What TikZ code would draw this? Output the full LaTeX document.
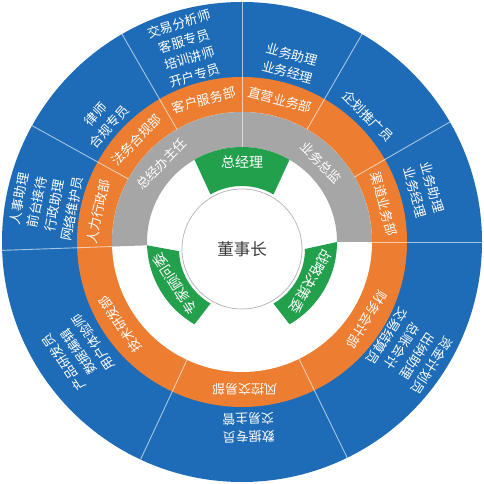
\documentclass[tikz,border=0pt]{standalone}
\usepackage{fontspec}
\newfontfamily\cjk{Noto Sans CJK SC}
\usetikzlibrary{calc}
\definecolor{cblue}{RGB}{30,108,184}
\definecolor{corange}{RGB}{237,125,49}
\definecolor{cgray}{RGB}{166,166,166}
\definecolor{cgreen}{RGB}{34,160,76}
\definecolor{cdark}{RGB}{60,60,60}
\tikzset{
  sep/.style={draw=white, draw opacity=0.6, line width=0.9pt},
  btext/.style={text=white, font=\cjk\fontsize{13}{18}\selectfont, align=center, inner sep=0pt},
  otext/.style={text=white, font=\cjk\fontsize{13}{15}\selectfont, inner sep=0pt},
  gtext/.style={text=white, font=\cjk\fontsize{13}{15}\selectfont, inner sep=0pt},
  ktext/.style={text=white, font=\cjk\fontsize{14}{16}\selectfont, inner sep=0pt},
}
\begin{document}
\begin{tikzpicture}[x=1pt,y=1pt]
\useasboundingbox (-242,-242) rectangle (241,242);
% rings
\fill[cblue] (0,0) circle (240);
\fill[corange] (0,0) circle (165);
\fill[white] (0,0) circle (130);
\fill[cgray] (182:130) arc[start angle=182,end angle=0,radius=130] -- (0:95) arc[start angle=0,end angle=182,radius=95] -- cycle;
% green sectors
\fill[cgreen] (60:95) arc[start angle=60,end angle=120,radius=95] -- ($(0,-7)+(120:63)$) arc[start angle=120,end angle=60,radius=63] -- cycle;
\fill[cgreen] (300:95) arc[start angle=300,end angle=360,radius=95] -- ($(0,-7)+(360:63)$) arc[start angle=360,end angle=300,radius=63] -- cycle;
\fill[cgreen] (182:95) arc[start angle=182,end angle=240,radius=95] -- ($(0,-7)+(240:63)$) arc[start angle=240,end angle=182,radius=63] -- cycle;
% centre circle
\draw[gray!60, line width=0.7pt, fill=white] (0,-7) circle (60);
% separators
\foreach \a in {30,60,120,151,245,296} \draw[sep] (\a:130) -- (\a:240);
\draw[sep] (90:95) -- (90:240);
\draw[sep] (0:130) -- (0:240);
\draw[sep] (182:130) -- (182:240);
% centre
\node[text=cdark, font=\cjk\fontsize{16.5}{18}\selectfont, inner sep=0pt] (dsz) at (0,-7) {董事长};
% green
\node[ktext] (zjl) at (90:80) {总经理};
\node[ktext, rotate=-120] (zljc) at (330:79) {战略决策委};
\node[ktext, rotate=123] (zjgw) at (212:79) {专家顾问委};
% gray
\node[gtext, rotate=46] (zjbzr) at (136:112) {总经办主任};
\node[gtext, rotate=-45] (ywzj) at (45:112) {业务总监};
% orange
\node[otext, rotate=15] (kffw) at (105:147) {客户服务部};
\node[otext, rotate=-15] (zyyw) at (75:147) {直营业务部};
\node[otext, rotate=-75] (qdyw) at (15:147) {渠道业务部};
\node[otext, rotate=-122] (cwkj) at (328:147) {财务会计部};
\node[otext, rotate=180] (fkjy) at (271:147) {风控交易部};
\node[otext, rotate=124] (jsyf) at (214:147) {技术研发部};
\node[otext, rotate=78] (rlxz) at (168:147) {人力行政部};
\node[otext, rotate=46] (fwhg) at (136:147) {法务合规部};
% blue
\node[btext, rotate=17] (b1) at (106:200) {交易分析师\\客服专员\\培训讲师\\开户专员};
\node[btext, rotate=-15] (b2) at (75:185) {业务助理\\业务经理};
\node[btext, rotate=-45] (b3) at (45:178) {企划推广员};
\node[btext, rotate=-74] (b4) at (16:189) {业务助理\\业务经理};
\node[btext, rotate=237] (b5) at (327:200) {资金计划员\\出纳助理\\总账会计\\交易结算员};
\node[btext, rotate=182] (b6) at (272:186) {数据专员\\交易主管};
\node[btext, rotate=124] (b7) at (214:197) {产品研发员\\数据编辑\\用户体验师};
\node[btext, rotate=79] (b8) at (169:200) {人事助理\\前台接待\\行政助理\\网络维护员};
\node[btext, rotate=48] (b9) at (139:185) {律师\\合规专员};
\end{tikzpicture}
\end{document}
